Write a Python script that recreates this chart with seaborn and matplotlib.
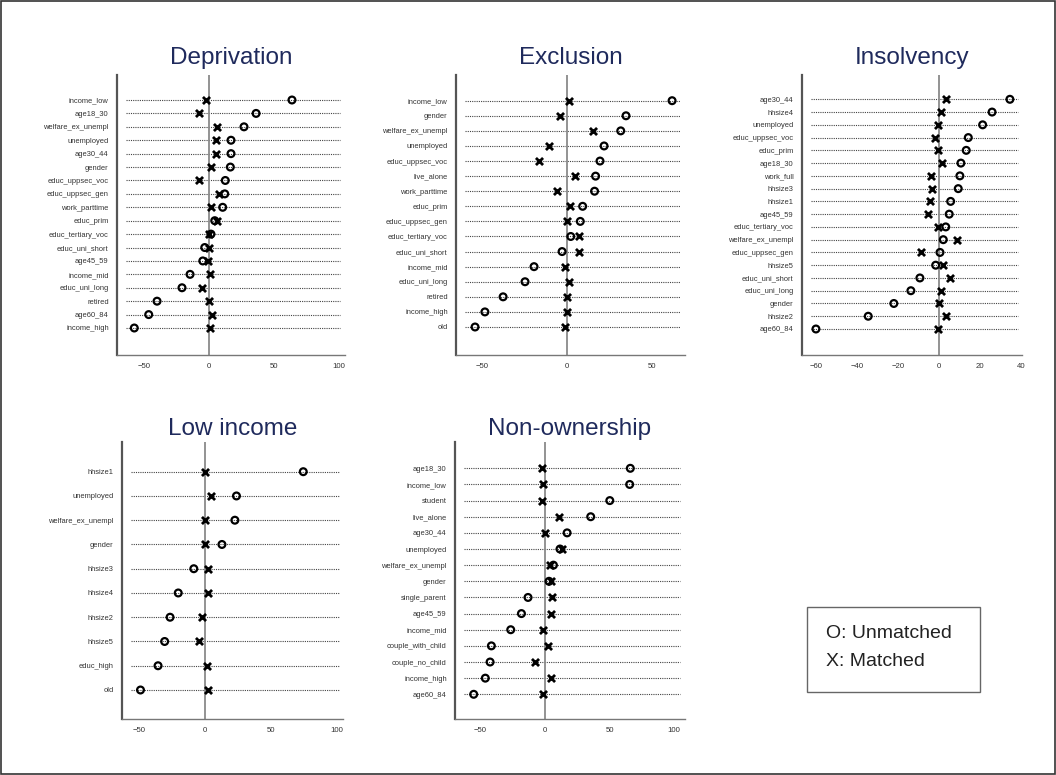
import numpy as np
import pandas as pd
import matplotlib.pyplot as plt
import seaborn as sns
from matplotlib.patches import Rectangle

# standardized % bias per covariate: O = unmatched, X = matched
dep_vars = ['income_low', 'age18_30', 'welfare_ex_unempl', 'unemployed', 'age30_44', 'gender',
            'educ_uppsec_voc', 'educ_uppsec_gen', 'work_parttime', 'educ_prim', 'educ_tertiary_voc',
            'educ_uni_short', 'age45_59', 'income_mid', 'educ_uni_long', 'retired', 'age60_84', 'income_high']
dep_unmatched = [63.8, 36.2, 26.9, 16.9, 16.9, 16.4, 12.5, 12.1, 10.5, 4.4, 1.5, -3.3, -4.8, -14.6, -20.8, -40.0, -46.4, -57.5]
dep_matched = [-2.3, -7.7, 6.4, 5.4, 5.2, 1.5, -7.5, 7.9, 1.5, 6.4, -0.2, 0.2, -1.0, 1.0, -5.2, 0.2, 2.1, 0.8]

exc_vars = ['income_low', 'gender', 'welfare_ex_unempl', 'unemployed', 'educ_uppsec_voc', 'live_alone',
            'work_parttime', 'educ_prim', 'educ_uppsec_gen', 'educ_tertiary_voc', 'educ_uni_short',
            'income_mid', 'educ_uni_long', 'retired', 'income_high', 'old']
exc_unmatched = [61.6, 34.5, 31.4, 21.6, 19.2, 16.6, 16.0, 9.0, 7.6, 2.0, -3.1, -19.6, -24.9, -37.8, -48.5, -54.3]
exc_matched = [1.2, -4.6, 14.9, -10.8, -16.7, 4.3, -5.9, 1.6, 0.0, 6.7, 6.9, -1.2, 1.2, 0.0, 0.0, -1.3]

ins_vars = ['age30_44', 'hhsize4', 'unemployed', 'educ_uppsec_voc', 'educ_prim', 'age18_30', 'work_full',
            'hhsize3', 'hhsize1', 'age45_59', 'educ_tertiary_voc', 'welfare_ex_unempl', 'educ_uppsec_gen',
            'hhsize5', 'educ_uni_short', 'educ_uni_long', 'gender', 'hhsize2', 'age60_84']
ins_unmatched = [34.6, 25.9, 21.3, 14.3, 13.3, 10.7, 10.2, 9.4, 5.7, 5.0, 3.3, 2.1, 0.5, -1.6, -9.3, -13.7, -22.0, -34.5, -60.0]
ins_matched = [3.4, 1.0, -0.3, -1.8, -0.3, 1.3, -3.8, -3.4, -4.2, -5.2, -0.6, 8.6, -8.9, 2.1, 5.5, 1.0, -0.1, 3.3, -0.5]

low_vars = ['hhsize1', 'unemployed', 'welfare_ex_unempl', 'gender', 'hhsize3', 'hhsize4', 'hhsize2',
            'hhsize5', 'educ_high', 'old']
low_unmatched = [74.4, 23.8, 22.6, 12.8, -8.5, -20.3, -26.5, -30.6, -35.6, -48.9]
low_matched = [0.3, 4.8, 0.3, 0.3, 2.3, 2.5, -2.0, -4.3, 1.8, 2.0]

own_vars = ['age18_30', 'income_low', 'student', 'live_alone', 'age30_44', 'unemployed', 'welfare_ex_unempl',
            'gender', 'single_parent', 'age45_59', 'income_mid', 'couple_with_child', 'couple_no_child',
            'income_high', 'age60_84']
own_unmatched = [66.1, 65.6, 50.2, 35.4, 17.1, 11.6, 6.5, 3.1, -13.2, -18.3, -26.6, -41.6, -42.6, -46.3, -55.3]
own_matched = [-2.1, -1.8, -2.6, 10.6, 0.3, 13.2, 3.9, 4.4, 5.4, 4.7, -1.8, 2.6, -7.8, 4.4, -1.6]

sns.set_style('white')
plt.rcParams['font.family'] = ['Liberation Sans', 'DejaVu Sans']

W, H = 1056, 775
fig = plt.figure(figsize=(W / 100, H / 100), dpi=100)


def draw_panel(box, rows, title, names, unmatched, matched, xlim, xticks, title_pad):
    left, top, right, bottom = box
    ax = fig.add_axes([left / W, 1 - bottom / H, (right - left) / W, (bottom - top) / H])
    n = len(names)
    df = pd.DataFrame({'row': np.arange(n), 'variable': names,
                       'Unmatched': unmatched, 'Matched': matched})

    for i in df['row']:
        ax.axhline(i, xmin=0.04, xmax=0.98, color='#444444', lw=0.8, ls=(0, (1, 1)), zorder=1)
    ax.axvline(0, color='#8a8a8a', lw=1.3, zorder=2)

    sns.scatterplot(data=df, x='Unmatched', y='row', marker='o', s=24, facecolor='none',
                    edgecolor='black', linewidth=1.6, ax=ax, zorder=4)
    sns.scatterplot(data=df, x='Matched', y='row', marker='x', s=26, color='black',
                    linewidth=2.0, ax=ax, zorder=4)

    # place rows where they sit in the reference
    first, last = rows
    step = (last - first) / (n - 1)
    ax.set_ylim((n - 1) + (bottom - last) / step, -(first - top) / step)
    ax.set_xlim(*xlim)
    ax.set_yticks(df['row'])
    ax.set_yticklabels(names)
    ax.set_xticks(xticks)
    ax.set_xlabel('')
    ax.set_ylabel('')

    ax.tick_params(axis='y', length=0, pad=6, labelsize=5.4, labelcolor='#333333')
    ax.tick_params(axis='x', length=3, width=0.8, color='#777777', pad=3, labelsize=5.6,
                   labelcolor='#333333')
    for side in ['top', 'right']:
        ax.spines[side].set_visible(False)
    ax.spines['left'].set_color('#555555')
    ax.spines['left'].set_linewidth(1.6)
    ax.spines['bottom'].set_color('#777777')
    ax.spines['bottom'].set_linewidth(1.0)

    ax.set_title(title, fontsize=17.5, color='#1f2a5c', pad=title_pad)
    return ax


draw_panel((117, 75, 345, 355), (100, 328), 'Deprivation', dep_vars, dep_unmatched, dep_matched,
           (-70.8, 104.6), [-50, 0, 50, 100], 8)
draw_panel((456, 75, 685, 355), (100.7, 327), 'Exclusion', exc_vars, exc_unmatched, exc_matched,
           (-65.5, 69.2), [-50, 0, 50], 8)
draw_panel((802, 75, 1022, 355), (99.3, 329), 'Insolvency', ins_vars, ins_unmatched, ins_matched,
           (-66.8, 40.5), [-60, -40, -20, 0, 20, 40], 8)
draw_panel((122, 442, 343, 719), (471.7, 690), 'Low income', low_vars, low_unmatched, low_matched,
           (-62.9, 104.5), [-50, 0, 50, 100], 5)
draw_panel((455, 442, 685, 719), (468.3, 694.3), 'Non-ownership', own_vars, own_unmatched, own_matched,
           (-69.8, 108.5), [-50, 0, 50, 100], 5)

# legend box
fig.patches.append(Rectangle((807 / W, 1 - 692 / H), 173 / W, 85 / H, transform=fig.transFigure,
                             fill=False, edgecolor='#666666', lw=1.0))
fig.text(826 / W, 1 - 633 / H, 'O: Unmatched', fontsize=14, color='#222222', va='center')
fig.text(826 / W, 1 - 662 / H, 'X: Matched', fontsize=14, color='#222222', va='center')

# outer frame
fig.patches.append(Rectangle((0.001, 0.001), 0.998, 0.998, transform=fig.transFigure,
                             fill=False, edgecolor='#333333', lw=1.2))

fig.savefig('out.png', dpi=100, facecolor='white')
